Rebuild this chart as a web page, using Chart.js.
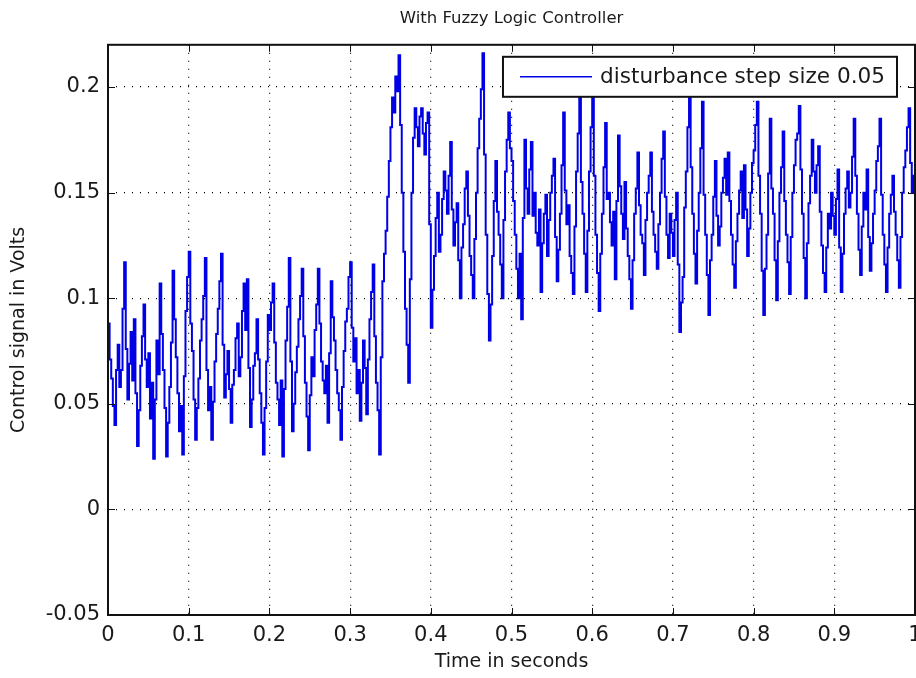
<!DOCTYPE html>
<html>
<head>
<meta charset="utf-8">
<script src="https://cdn.jsdelivr.net/npm/chart.js@4/dist/chart.umd.min.js"></script>
<style>
  html, body { margin: 0; padding: 0; overflow: hidden; background: #fff; }
  #wrap { width: 940px; height: 678px; }
</style>
</head>
<body>
<div id="wrap"><canvas id="fuzzyChart"></canvas></div>
<script>
// sample spacing of the controller output (seconds)
var sampleStep = 0.002;

// control signal in volts, one array per 0.1 s of the record
var seg0 = [0.088, 0.071, 0.062, 0.049, 0.040, 0.066, 0.078, 0.058, 0.066, 0.095, 0.117, 0.076, 0.052, 0.069, 0.084, 0.061, 0.090, 0.055, 0.030, 0.047,
            0.068, 0.082, 0.097, 0.071, 0.058, 0.074, 0.043, 0.060, 0.024, 0.052, 0.080, 0.064, 0.107, 0.083, 0.066, 0.048, 0.025, 0.041, 0.058, 0.079,
            0.113, 0.090, 0.072, 0.055, 0.037, 0.049, 0.026, 0.063, 0.094, 0.110];
var seg1 = [0.122, 0.088, 0.075, 0.052, 0.033, 0.048, 0.062, 0.080, 0.090, 0.101, 0.119, 0.066, 0.047, 0.058, 0.033, 0.051, 0.070, 0.083, 0.095, 0.108,
            0.121, 0.078, 0.053, 0.064, 0.075, 0.057, 0.041, 0.059, 0.066, 0.081, 0.088, 0.063, 0.072, 0.094, 0.107, 0.085, 0.109, 0.067, 0.039, 0.052,
            0.068, 0.074, 0.090, 0.071, 0.055, 0.041, 0.026, 0.048, 0.070, 0.092];
var seg2 = [0.085, 0.098, 0.107, 0.079, 0.060, 0.052, 0.040, 0.061, 0.025, 0.057, 0.080, 0.096, 0.119, 0.070, 0.037, 0.050, 0.065, 0.077, 0.090, 0.101,
            0.114, 0.082, 0.060, 0.044, 0.028, 0.054, 0.072, 0.063, 0.085, 0.097, 0.114, 0.088, 0.070, 0.061, 0.055, 0.068, 0.041, 0.074, 0.108, 0.091,
            0.080, 0.066, 0.055, 0.047, 0.033, 0.058, 0.075, 0.089, 0.095, 0.110];
var seg3 = [0.117, 0.086, 0.070, 0.081, 0.055, 0.066, 0.042, 0.060, 0.080, 0.067, 0.045, 0.071, 0.090, 0.103, 0.116, 0.082, 0.060, 0.047, 0.026, 0.072,
            0.108, 0.121, 0.132, 0.148, 0.165, 0.181, 0.195, 0.188, 0.205, 0.198, 0.215, 0.182, 0.150, 0.122, 0.095, 0.078, 0.060, 0.109, 0.150, 0.176,
            0.190, 0.181, 0.172, 0.186, 0.190, 0.178, 0.168, 0.183, 0.188, 0.135];
var seg4 = [0.086, 0.104, 0.120, 0.138, 0.150, 0.122, 0.130, 0.147, 0.160, 0.151, 0.140, 0.158, 0.174, 0.142, 0.125, 0.136, 0.145, 0.118, 0.100, 0.124,
            0.135, 0.152, 0.160, 0.139, 0.120, 0.111, 0.100, 0.128, 0.150, 0.171, 0.185, 0.199, 0.216, 0.168, 0.130, 0.102, 0.080, 0.097, 0.120, 0.146,
            0.165, 0.141, 0.130, 0.116, 0.100, 0.137, 0.160, 0.175, 0.188, 0.171];
var seg5 = [0.165, 0.146, 0.130, 0.114, 0.100, 0.121, 0.090, 0.138, 0.175, 0.152, 0.140, 0.161, 0.174, 0.139, 0.150, 0.131, 0.125, 0.142, 0.103, 0.126,
            0.140, 0.149, 0.120, 0.137, 0.150, 0.158, 0.166, 0.129, 0.108, 0.123, 0.140, 0.163, 0.188, 0.151, 0.135, 0.144, 0.120, 0.112, 0.102, 0.134,
            0.160, 0.178, 0.196, 0.155, 0.140, 0.121, 0.103, 0.132, 0.160, 0.181];
var seg6 = [0.196, 0.158, 0.130, 0.112, 0.094, 0.121, 0.140, 0.162, 0.183, 0.147, 0.150, 0.136, 0.125, 0.141, 0.109, 0.146, 0.177, 0.153, 0.140, 0.128,
            0.155, 0.133, 0.120, 0.109, 0.095, 0.118, 0.140, 0.152, 0.169, 0.144, 0.130, 0.126, 0.111, 0.137, 0.150, 0.158, 0.169, 0.141, 0.130, 0.122,
            0.114, 0.135, 0.150, 0.166, 0.179, 0.148, 0.130, 0.119, 0.140, 0.131];
var seg7 = [0.120, 0.137, 0.150, 0.116, 0.084, 0.098, 0.110, 0.143, 0.160, 0.181, 0.200, 0.162, 0.140, 0.121, 0.107, 0.132, 0.150, 0.171, 0.193, 0.149,
            0.130, 0.111, 0.092, 0.118, 0.130, 0.148, 0.165, 0.139, 0.125, 0.134, 0.150, 0.157, 0.166, 0.149, 0.169, 0.146, 0.130, 0.116, 0.105, 0.127,
            0.140, 0.151, 0.160, 0.138, 0.163, 0.142, 0.120, 0.133, 0.150, 0.164];
var seg8 = [0.170, 0.182, 0.193, 0.158, 0.140, 0.113, 0.092, 0.114, 0.130, 0.159, 0.185, 0.152, 0.140, 0.118, 0.099, 0.127, 0.150, 0.162, 0.179, 0.146,
            0.130, 0.117, 0.102, 0.129, 0.150, 0.163, 0.175, 0.178, 0.191, 0.161, 0.140, 0.119, 0.100, 0.126, 0.145, 0.158, 0.175, 0.160, 0.150, 0.163,
            0.172, 0.141, 0.125, 0.112, 0.103, 0.124, 0.140, 0.133, 0.150, 0.139];
// last one carries the final sample at t = 1
var seg9 = [0.130, 0.147, 0.161, 0.124, 0.103, 0.121, 0.140, 0.152, 0.160, 0.143, 0.150, 0.167, 0.185, 0.158, 0.140, 0.123, 0.111, 0.134, 0.150, 0.142,
            0.161, 0.129, 0.113, 0.126, 0.140, 0.151, 0.165, 0.172, 0.185, 0.149, 0.130, 0.116, 0.103, 0.124, 0.140, 0.149, 0.158, 0.141, 0.130, 0.118,
            0.105, 0.129, 0.150, 0.162, 0.170, 0.181, 0.190, 0.164, 0.150, 0.158, 0.170];

var xTicks = [0, 0.1, 0.2, 0.3, 0.4, 0.5, 0.6, 0.7, 0.8, 0.9, 1];
var yTicks = [-0.05, 0, 0.05, 0.1, 0.15, 0.2];

var segments = [seg0, seg1, seg2, seg3, seg4, seg5, seg6, seg7, seg8, seg9];
var points = [];
segments.forEach(function (seg, k) {
    seg.forEach(function (v, i) {
        points.push({ x: +(k * 0.1 + i * sampleStep).toFixed(3), y: v });
    });
});

var tickFont = { family: 'DejaVu Sans', size: 21 };
var labelFont = { family: 'DejaVu Sans', size: 19 };

// box round the axes, inward ticks on all four sides and the boxed legend
var matlabAxes = {
    id: 'matlabAxes',
    afterDatasetsDraw: function (chart) {
        var a = chart.chartArea, ctx = chart.ctx;
        var xs = chart.scales.x, ys = chart.scales.y;
        ctx.save();
        ctx.strokeStyle = '#111';
        ctx.lineWidth = 1;
        ctx.beginPath();
        xTicks.forEach(function (v) {
            var px = Math.round(xs.getPixelForValue(v)) + 0.5;
            ctx.moveTo(px, a.bottom); ctx.lineTo(px, a.bottom - 7);
            ctx.moveTo(px, a.top); ctx.lineTo(px, a.top + 7);
        });
        yTicks.forEach(function (v) {
            var py = Math.round(ys.getPixelForValue(v)) + 0.5;
            ctx.moveTo(a.left, py); ctx.lineTo(a.left + 7, py);
            ctx.moveTo(a.right, py); ctx.lineTo(a.right - 7, py);
        });
        ctx.stroke();
        ctx.lineWidth = 2;
        ctx.strokeRect(a.left, a.top, a.right - a.left, a.bottom - a.top);

        // legend
        var ds = chart.data.datasets[0];
        ctx.font = '21.6px "DejaVu Sans"';
        var tw = ctx.measureText(ds.label).width;
        var w = 17 + 72 + 8 + tw + 12, h = 40;
        var lx = a.right - 18 - w, ly = a.top + 12;
        ctx.fillStyle = '#fff';
        ctx.fillRect(lx, ly, w, h);
        ctx.lineWidth = 2;
        ctx.strokeRect(lx, ly, w, h);
        ctx.strokeStyle = ds.borderColor;
        ctx.lineWidth = 1.5;
        ctx.beginPath();
        ctx.moveTo(lx + 17, ly + h / 2);
        ctx.lineTo(lx + 17 + 72, ly + h / 2);
        ctx.stroke();
        ctx.fillStyle = '#1a1a1a';
        ctx.textBaseline = 'middle';
        ctx.fillText(ds.label, lx + 17 + 72 + 8, ly + h / 2 + 1);
        ctx.restore();
    }
};

var ctx = document.getElementById('fuzzyChart').getContext('2d');
var fuzzyChart = new Chart(ctx, {
    type: 'line',
    data: {
        datasets: [{
            label: 'disturbance step size 0.05',
            data: points,
            borderColor: 'rgb(0, 0, 230)',
            borderWidth: 2,
            pointRadius: 0,
            stepped: true,
            fill: false
        }]
    },
    options: {
        responsive: true,
        maintainAspectRatio: false,
        animation: false,
        layout: { padding: { left: 0, right: 25, top: 0, bottom: 0 } },
        plugins: {
            legend: { display: false },
            tooltip: { enabled: false },
            title: {
                display: true,
                fullSize: false,
                text: 'With Fuzzy Logic Controller',
                color: '#1a1a1a',
                font: { family: 'DejaVu Sans', size: 16.5, weight: 'normal' },
                padding: { top: 9, bottom: 16 }
            }
        },
        scales: {
            x: {
                type: 'linear',
                min: 0,
                max: 1,
                afterBuildTicks: function (s) { s.ticks = xTicks.map(function (v) { return { value: v }; }); },
                afterFit: function (s) { s.height = 63; },
                grid: { color: '#000', lineWidth: 1.2, drawTicks: false },
                border: { display: false, dash: [1, 7] },
                ticks: {
                    color: '#1a1a1a', font: tickFont, padding: 8, maxRotation: 0,
                    callback: function (v) { return String(+v.toFixed(2)); }
                },
                title: { display: true, text: 'Time in seconds', color: '#1a1a1a', font: labelFont, padding: { top: 0, bottom: 5 } }
            },
            y: {
                type: 'linear',
                min: -0.05,
                max: 0.22,
                afterBuildTicks: function (s) { s.ticks = yTicks.map(function (v) { return { value: v }; }); },
                afterFit: function (s) { s.width = 108; },
                grid: { color: '#000', lineWidth: 1.2, drawTicks: false },
                border: { display: false, dash: [1, 7] },
                ticks: {
                    color: '#1a1a1a', font: tickFont, padding: 8,
                    callback: function (v) { return String(+v.toFixed(2)); }
                },
                title: { display: true, text: 'Control signal in Volts', color: '#1a1a1a', font: labelFont, padding: { top: 8, bottom: 0 } }
            }
        }
    },
    plugins: [matlabAxes]
});
</script>
</body>
</html>
